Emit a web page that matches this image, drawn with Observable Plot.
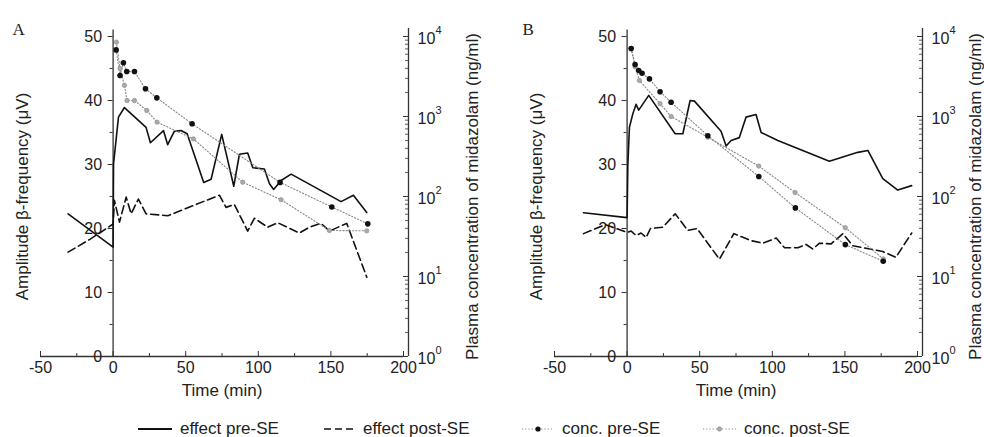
<!DOCTYPE html>
<html><head><meta charset="utf-8">
<script src="https://cdn.jsdelivr.net/npm/d3@7"></script>
<script src="https://cdn.jsdelivr.net/npm/@observablehq/plot@0.6"></script>
<style>
body{margin:0;background:#fff;font-family:"Liberation Sans",Arial,sans-serif;}
#wrap{position:relative;width:984px;height:437px;overflow:hidden;background:#fff;}
.panel{position:absolute;top:0;width:470px;height:412px;}
.panel svg{position:absolute;left:0;top:0;overflow:visible;}
#legend{position:absolute;top:418px;left:0;width:984px;height:21px;font-size:17px;color:#222;}
.item{position:absolute;top:0;height:21px;display:flex;align-items:center;white-space:nowrap;}
.item svg{margin-right:8px;}
</style></head><body>
<div id="wrap">
  <div class="panel" id="pA" style="left:0px"></div>
  <div class="panel" id="pB" style="left:514px"></div>
  <div id="legend"></div>
</div>
<script>
// ---------- axis ticks / labels ----------
const xMajor = [-50, 0, 50, 100, 150, 200];
const xMinor = [-25, 25, 75, 125, 175];
const yMajor = [0, 10, 20, 30, 40, 50];
const yMinor = [5, 15, 25, 35, 45];
const logMajor = [1, 10, 100, 1000, 10000];
const logMinor = [2,3,4,5,6,7,8,9, 20,30,40,50,60,70,80,90, 200,300,400,500,600,700,800,900, 2000,3000,4000,5000,6000,7000,8000,9000];
const seriesNames = ["effect pre-SE", "effect post-SE", "conc. pre-SE", "conc. post-SE"];
const yTitle = "Amplitude β-frequency (μV)";
const y2Title = "Plasma concentration of midazolam (ng/ml)";
const xTitle = "Time (min)";

// ---------- Panel A ----------
const tA_effPre = [-31, 0, 0.3, 3.7, 7.8, 22.7, 25.7, 34.7, 37.6, 42.2, 46.8, 51, 62.4, 67.5, 74.8, 83.1, 87, 92.7, 96.2, 104.2, 107.7, 110.6, 115.7, 122.6, 157, 165.5, 174.7];
const vA_effPre = [22.3, 17.1, 30.1, 37.4, 38.9, 35.8, 33.4, 35.3, 33.1, 35.2, 35.3, 34.8, 27.2, 27.7, 34.7, 26.6, 31.6, 31.8, 29.5, 29.3, 27, 26.1, 27.5, 28.5, 24.2, 25.2, 22.5];
const tA_effPost = [-31, -16, 0, 0.9, 4.4, 9, 12.4, 17.4, 22.7, 37.6, 73.2, 77.8, 83.5, 92.7, 97.3, 106.5, 113.4, 128.3, 135.2, 143.2, 149, 160.9, 174.7];
const vA_effPost = [16.3, 18.3, 20.7, 24.4, 21, 24.9, 22.3, 24.6, 22.3, 22, 25.2, 23.3, 23.75, 19.6, 21.6, 20.2, 20.9, 19.3, 20.2, 20.8, 19.6, 20.8, 12.4];
const tA_concPre = [2.1, 4.8, 7.1, 9.4, 14.7, 22.3, 30.1, 54.4, 115, 150.6, 175.4];
const cA_concPre = [6800, 3250, 4700, 3650, 3650, 2220, 1710, 810, 150, 74, 45.5];
const tA_concPost = [2.3, 4.8, 7.8, 9.6, 14.7, 23.2, 30.3, 55.3, 89.3, 115.7, 149, 174.7];
const cA_concPost = [8500, 3980, 2450, 1585, 1585, 1190, 850, 525, 151, 91, 37.6, 37.2];

// ---------- Panel B ----------
const tB_effPre = [-30, 0, 0.5, 1.6, 3.9, 6.2, 8.0, 14.9, 33.1, 38.4, 43.4, 46.4, 64.7, 68.2, 71.6, 77.3, 81.9, 88.8, 92.3, 103.8, 139.3, 158.9, 165.8, 176.1, 186.4, 196];
const vB_effPre = [22.45, 21.7, 29.8, 35.8, 37.9, 39.4, 38.5, 40.8, 34.8, 34.8, 40, 39.9, 35.2, 32.9, 33.75, 34.2, 37.4, 37.8, 35, 33.75, 30.5, 31.9, 32.2, 27.8, 26, 26.7];
const tB_effPost = [-30, -15, 0, 2.8, 6.2, 9.6, 13.1, 16.1, 24.6, 33.1, 41.8, 48.2, 63.6, 73.5, 85.4, 93.5, 102.7, 108.4, 117.6, 123.3, 127.9, 132.5, 140.5, 148.6, 155.5, 176.1, 185.1, 196];
const vB_effPost = [19.2, 20.6, 19.4, 19.6, 18.9, 19.3, 18.6, 20, 20.2, 22.3, 19.7, 20, 15.2, 19.2, 18.1, 17.7, 18.5, 17, 17, 17.5, 16.8, 17.7, 17.6, 19.2, 17.3, 16.4, 15.5, 19.3];
const tB_concPre = [2.8, 5.5, 8.0, 10.3, 15.4, 22.7, 30.3, 55.6, 90.7, 115.9, 150.3, 176.4];
const cB_concPre = [7080, 4470, 3760, 3470, 2950, 2040, 1510, 575, 178, 72, 25, 15.5];
const tB_concPost = [2.8, 5.5, 8.5, 22.7, 30.3, 55.6, 90.7, 115.7, 150.3, 176.4];
const cB_concPost = [7080, 4170, 2820, 1445, 1000, 550, 240, 112, 40.7, 16.6];

// ---------- layout ----------
const W = 470, H = 412, mL = 40, mR = 67, mT = 36, mB = 56;
const axisColor = "#333", textColor = "#222";
const font = "'Liberation Sans', Arial, sans-serif";
const dotted = "#888";

function effectPlot(tPre, vPre, tPost, vPost, letter, letterDx) {
  return Plot.plot({
    width: W, height: H, marginLeft: mL, marginRight: mR, marginTop: mT, marginBottom: mB,
    style: {background: "transparent", overflow: "visible", fontFamily: font, color: textColor},
    x: {domain: [-50, 200], axis: null},
    y: {domain: [0, 50], axis: null},
    marks: [
      Plot.ruleY([0], {x1: -50, x2: 200, stroke: axisColor, strokeWidth: 1.3}),
      Plot.ruleX([0], {y1: 0, y2: 51, stroke: axisColor, strokeWidth: 1.3}),
      Plot.ruleX(xMajor, {y1: 0, y2: 0, insetTop: -5, stroke: axisColor}),
      Plot.ruleX(xMinor, {y1: 0, y2: 0, insetTop: -3, stroke: axisColor}),
      Plot.ruleY(yMajor, {x1: 0, x2: 0, insetLeft: -5, stroke: axisColor}),
      Plot.ruleY(yMinor, {x1: 0, x2: 0, insetLeft: -3, stroke: axisColor}),
      Plot.text(yMajor, {x: 0, y: d => d, text: d => String(d), dx: -11, textAnchor: "end", fontSize: 16, fill: textColor}),
      Plot.text(xMajor, {x: d => d, frameAnchor: "bottom", dy: 16, text: d => String(d), fontSize: 16, fill: textColor}),
      Plot.text([xTitle], {frameAnchor: "bottom", dy: 39, fontSize: 17, fill: textColor}),
      Plot.text([yTitle], {frameAnchor: "left", rotate: -90, dx: -18, textAnchor: "middle", fontSize: 17, fill: textColor}),
      Plot.text([letter], {frameAnchor: "top-left", dx: letterDx, dy: -14, textAnchor: "start", fontSize: 17, fontFamily: "'Liberation Serif', 'Times New Roman', serif", fill: textColor}),
      Plot.line(tPost, {x: tPost, y: vPost, stroke: "#111", strokeWidth: 1.6, strokeDasharray: "8,4"}),
      Plot.line(tPre, {x: tPre, y: vPre, stroke: "#111", strokeWidth: 1.6})
    ]
  });
}

function concPlot(tPre, cPre, tPost, cPost, titleDx) {
  return Plot.plot({
    width: W, height: H, marginLeft: mL, marginRight: mR, marginTop: mT, marginBottom: mB,
    style: {background: "transparent", overflow: "visible", fontFamily: font, color: textColor},
    x: {domain: [-50, 200], axis: null},
    y: {type: "log", domain: [1, 10000], axis: null},
    marks: [
      Plot.ruleX([200], {y1: 1, y2: 12600, dx: 5, stroke: axisColor, strokeWidth: 1.3}),
      Plot.ruleY(logMajor, {x1: 200, x2: 200, dx: 5, insetLeft: -5, stroke: axisColor}),
      Plot.ruleY(logMinor, {x1: 200, x2: 200, dx: 5, insetLeft: -3, stroke: axisColor, strokeWidth: 0.8}),
      Plot.text(logMajor, {x: 200, y: d => d, text: () => "10", dx: 14, dy: 2, textAnchor: "start", fontSize: 16, fill: textColor}),
      Plot.text(logMajor, {x: 200, y: d => d, text: d => String(Math.round(Math.log10(d))), dx: 32, dy: -6, textAnchor: "start", fontSize: 11, fill: textColor}),
      Plot.text([y2Title], {frameAnchor: "right", rotate: -90, dx: titleDx, textAnchor: "middle", fontSize: 17, fill: textColor}),
      Plot.line(tPost, {x: tPost, y: cPost, stroke: dotted, strokeWidth: 1.1, strokeDasharray: "1.2,2"}),
      Plot.line(tPre, {x: tPre, y: cPre, stroke: dotted, strokeWidth: 1.1, strokeDasharray: "1.2,2"}),
      Plot.dot(tPost, {x: tPost, y: cPost, r: 2.2, fill: "#aaa", stroke: "#888", strokeWidth: 0.6}),
      Plot.dot(tPre, {x: tPre, y: cPre, r: 2.8, fill: "#111"})
    ]
  });
}

const pA = document.getElementById("pA");
pA.append(effectPlot(tA_effPre, vA_effPre, tA_effPost, vA_effPost, "A", -28));
pA.append(concPlot(tA_concPre, cA_concPre, tA_concPost, cA_concPost, 69));
const pB = document.getElementById("pB");
pB.append(effectPlot(tB_effPre, vB_effPre, tB_effPost, vB_effPost, "B", -32));
pB.append(concPlot(tB_concPre, cB_concPre, tB_concPost, cB_concPost, 58));

// ---------- legend ----------
const samples = [
  `<svg width="34" height="10"><line x1="0" x2="34" y1="5" y2="5" stroke="#111" stroke-width="2"/></svg>`,
  `<svg width="31" height="10"><line x1="0" x2="31" y1="5" y2="5" stroke="#111" stroke-width="1.6" stroke-dasharray="7,4"/></svg>`,
  `<svg width="32" height="10"><line x1="0" x2="32" y1="5" y2="5" stroke="${dotted}" stroke-width="1.1" stroke-dasharray="1.2,2"/><circle cx="16" cy="5" r="2.6" fill="#111"/></svg>`,
  `<svg width="33" height="10"><line x1="0" x2="33" y1="5" y2="5" stroke="${dotted}" stroke-width="1.1" stroke-dasharray="1.2,2"/><circle cx="16.5" cy="5" r="2.2" fill="#aaa" stroke="#888" stroke-width="0.6"/></svg>`
];
const legendLeft = [138, 324, 522, 703];
const legend = document.getElementById("legend");
seriesNames.forEach((name, i) => {
  const it = document.createElement("div");
  it.className = "item";
  it.style.left = legendLeft[i] + "px";
  it.innerHTML = samples[i] + `<span>${name}</span>`;
  legend.append(it);
});
</script>
</body></html>
